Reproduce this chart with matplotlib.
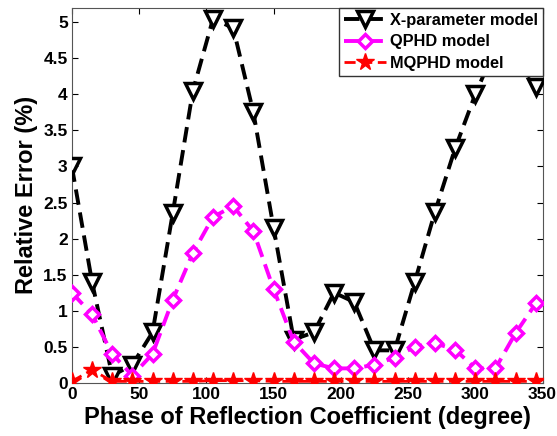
import matplotlib
matplotlib.use('Agg')
import matplotlib.pyplot as plt
import numpy as np

# phase points (degree)
phase = [0, 15, 30, 45, 60, 75, 90, 105, 120, 135, 150, 165,
         180, 195, 210, 225, 240, 255, 270, 285, 300, 315, 330, 345]

xparam = [3.0, 1.4, 0.1, 0.25, 0.7, 2.35, 4.05, 5.05, 4.92, 3.75, 2.15, 0.6,
          0.7, 1.25, 1.12, 0.45, 0.45, 1.4, 2.37, 3.25, 4.0, 4.65, 4.55, 4.1]
qphd = [1.25, 0.95, 0.4, 0.1, 0.4, 1.15, 1.8, 2.3, 2.45, 2.1, 1.3, 0.57,
        0.27, 0.2, 0.2, 0.25, 0.35, 0.5, 0.55, 0.46, 0.2, 0.2, 0.69, 1.1]
mqphd = [0.02, 0.18, 0.02, 0.02, 0.02, 0.02, 0.02, 0.03, 0.03, 0.03, 0.02, 0.02,
         0.02, 0.02, 0.02, 0.02, 0.02, 0.02, 0.02, 0.02, 0.02, 0.02, 0.02, 0.02]

xticks = [0, 50, 100, 150, 200, 250, 300, 350]
yticks = [0, 0.5, 1, 1.5, 2, 2.5, 3, 3.5, 4, 4.5, 5]
ytick_labels = ['0', '0.5', '1', '1.5', '2', '2.5', '3', '3.5', '4', '4.5', '5']

plt.rcParams['font.family'] = ['Liberation Sans', 'DejaVu Sans']
plt.rcParams['font.weight'] = 'bold'

fig = plt.figure(figsize=(5.57, 4.36), dpi=100)
ax = fig.add_axes([0.129, 0.122, 0.845, 0.86])

ax.plot(phase, xparam, '--', color='black', lw=2.8, dashes=(4, 2),
        marker='v', ms=11, mfc='white', mec='black', mew=2.5,
        label='X-parameter model', zorder=3)
ax.plot(phase, qphd, '--', color='magenta', lw=2.8, dashes=(4, 2),
        marker='D', ms=7.5, mfc='white', mec='magenta', mew=2.5,
        label='QPHD model', zorder=3)
ax.plot(phase, mqphd, '--', color='red', lw=2, dashes=(4, 2),
        marker='*', ms=13, mfc='red', mec='red',
        label='MQPHD model', zorder=4)

ax.set_xlim(0, 350)
ax.set_ylim(0, 5.2)
ax.set_xticks(xticks)
ax.set_yticks(yticks)
ax.set_yticklabels(ytick_labels)
ax.tick_params(direction='in', top=True, right=True, labelsize=12.5, length=4, pad=3)
for lab in ax.get_xticklabels() + ax.get_yticklabels():
    lab.set_fontweight('bold')
ax.set_xlabel('Phase of Reflection Coefficient (degree)', fontsize=17, fontweight='bold',
              labelpad=3)
ax.set_ylabel('Relative Error (%)', fontsize=17, fontweight='bold', labelpad=4)
for s in ax.spines.values():
    s.set_color('#555555')

leg = ax.legend(loc='upper right', handlelength=2.6, handletextpad=0.2,
                borderpad=0.3, labelspacing=0.4, borderaxespad=0.0, fancybox=False,
                framealpha=1, edgecolor='#333333', prop={'weight': 'bold', 'size': 11.8})

fig.savefig('out.png', dpi=100)
